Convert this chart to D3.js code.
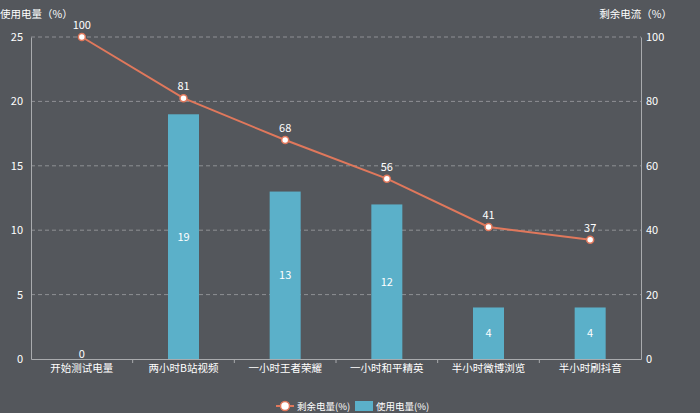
<!DOCTYPE html>
<html>
<head>
<meta charset="utf-8">
<script src="https://cdn.jsdelivr.net/npm/d3@7"></script>
<style>
	body { margin: 0; background: #54575c; }
	svg text { font-family: 'Noto Sans CJK SC', 'Noto Sans', sans-serif; fill: #fff; }
</style>
</head>
<body>
<svg id="chart" width="700" height="413"></svg>
<script>
var categories = ['开始测试电量', '两小时B站视频', '一小时王者荣耀', '一小时和平精英', '半小时微博浏览', '半小时刷抖音']
var used = [0, 19, 13, 12, 4, 4]
var remain = [100, 81, 68, 56, 41, 37]
var leftTicks = [0, 5, 10, 15, 20, 25]
var rightTicks = [0, 20, 40, 60, 80, 100]

var m = {top: 37, right: 59, bottom: 54, left: 31}
var w = 700, h = 413
var svg = d3.select('#chart')

var x = d3.scaleBand().domain(categories).range([m.left, w - m.right])
var yl = d3.scaleLinear().domain([0, 25]).range([h - m.bottom, m.top])
var yr = d3.scaleLinear().domain([0, 100]).range([h - m.bottom, m.top])

var axisColor = '#a9abae'

// grid
svg.append('g').selectAll('line')
	.data(leftTicks.filter(d => d > 0))
	.enter().append('line')
	.attr('x1', m.left).attr('x2', w - m.right)
	.attr('y1', d => yl(d)).attr('y2', d => yl(d))
	.attr('stroke', '#8e9094')
	.attr('stroke-dasharray', '4,3')

// left axis
var gl = svg.append('g')
	.attr('transform', 'translate(' + m.left + ',0)')
	.call(d3.axisLeft(yl).tickValues(leftTicks).tickSize(0).tickPadding(8))
gl.select('.domain').attr('stroke', axisColor)
gl.selectAll('text').attr('font-size', 11)

// right axis
var gr = svg.append('g')
	.attr('transform', 'translate(' + (w - m.right) + ',0)')
	.call(d3.axisRight(yr).tickValues(rightTicks).tickSize(0).tickPadding(5))
gr.select('.domain').attr('stroke', axisColor)
gr.selectAll('text').attr('font-size', 11)

// bottom axis
var gb = svg.append('g')
	.attr('transform', 'translate(0,' + (h - m.bottom) + ')')
	.call(d3.axisBottom(x).tickSize(0).tickPadding(6))
gb.select('.domain').attr('stroke', axisColor)
gb.selectAll('text').attr('font-size', 10.5)
gb.selectAll('.sep')
	.data(categories.slice(1))
	.enter().append('line')
	.attr('x1', d => x(d)).attr('x2', d => x(d))
	.attr('y1', 0).attr('y2', 4)
	.attr('stroke', axisColor)

// axis titles
svg.append('text')
	.attr('x', 0).attr('y', 18)
	.attr('font-size', 10.5)
	.text('使用电量（%）')
svg.append('text')
	.attr('x', 672).attr('y', 18)
	.attr('text-anchor', 'end')
	.attr('font-size', 10.5)
	.text('剩余电流（%）')

// bars
var bw = 31
svg.append('g').selectAll('rect')
	.data(used)
	.enter().append('rect')
	.attr('x', (d, i) => x(categories[i]) + x.bandwidth() / 2 - bw / 2)
	.attr('y', d => yl(d))
	.attr('width', bw)
	.attr('height', d => yl(0) - yl(d))
	.attr('fill', '#5bb0c9')

svg.append('g').selectAll('text')
	.data(used)
	.enter().append('text')
	.attr('x', (d, i) => x(categories[i]) + x.bandwidth() / 2)
	.attr('y', d => d > 0 ? (yl(d) + yl(0)) / 2 + 4 : yl(0) - 1)
	.attr('text-anchor', 'middle')
	.attr('font-size', 11)
	.text(d => d)

// line
var line = d3.line()
	.x((d, i) => x(categories[i]) + x.bandwidth() / 2)
	.y(d => yr(d))

svg.append('path')
	.datum(remain)
	.attr('d', line)
	.attr('fill', 'none')
	.attr('stroke', '#e0785c')
	.attr('stroke-width', 2)

svg.append('g').selectAll('circle')
	.data(remain)
	.enter().append('circle')
	.attr('cx', (d, i) => x(categories[i]) + x.bandwidth() / 2)
	.attr('cy', d => yr(d))
	.attr('r', 3.5)
	.attr('fill', '#fff')
	.attr('stroke', '#e0785c')
	.attr('stroke-width', 1.5)

svg.append('g').selectAll('text')
	.data(remain)
	.enter().append('text')
	.attr('x', (d, i) => x(categories[i]) + x.bandwidth() / 2)
	.attr('y', d => yr(d) - 8)
	.attr('text-anchor', 'middle')
	.attr('font-size', 11)
	.text(d => d)

// legend
var lg = svg.append('g').attr('transform', 'translate(0,406)')
lg.append('line')
	.attr('x1', 276).attr('x2', 294)
	.attr('stroke', '#e0785c').attr('stroke-width', 2)
lg.append('circle')
	.attr('cx', 285).attr('r', 4.5)
	.attr('fill', '#fff').attr('stroke', '#e0785c').attr('stroke-width', 1.5)
lg.append('text')
	.attr('x', 297).attr('y', 4)
	.attr('font-size', 9.5)
	.text('剩余电量(%)')
lg.append('rect')
	.attr('x', 355).attr('y', -5)
	.attr('width', 18).attr('height', 10)
	.attr('fill', '#5bb0c9')
lg.append('text')
	.attr('x', 376).attr('y', 4)
	.attr('font-size', 9.5)
	.text('使用电量(%)')
</script>
</body>
</html>
